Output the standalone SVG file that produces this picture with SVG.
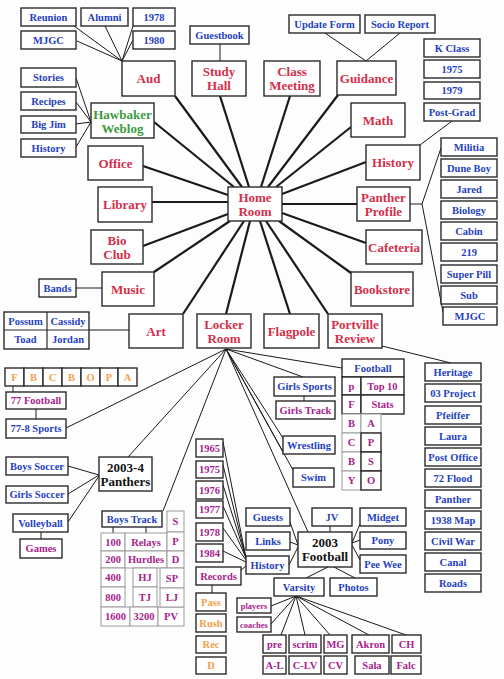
<svg xmlns="http://www.w3.org/2000/svg" width="504" height="679" viewBox="0 0 504 679">
<style>
rect{fill:#fff;stroke:#2a2a2a;stroke-width:1.4}
.g rect{stroke:#9a9a9a;stroke-width:1}
text{font-family:"Liberation Serif","Times New Roman",serif;font-weight:bold;text-anchor:middle;dominant-baseline:central;font-size:10.5px}
.L{font-size:13px}
.xs{font-size:8.5px}
.r{fill:#d42f4a}.u{fill:#1f3fbf}.p{fill:#a8228c}.o{fill:#f2a04a}.gr{fill:#3a9a40}.k{fill:#111}
#connectors line{stroke:#1a1a1a;stroke-width:1}
#connectors .h line{stroke-width:2.2}
</style>
<rect x="0" y="0" width="504" height="679" style="fill:#fdfdfd;stroke:none"/>
<g id="connectors">
<g class="h">
<line x1="175" y1="96" x2="242" y2="187"/>
<line x1="220" y1="96" x2="249" y2="187"/>
<line x1="290" y1="96" x2="261" y2="187"/>
<line x1="338" y1="95" x2="268" y2="187"/>
<line x1="351" y1="127" x2="276" y2="187"/>
<line x1="366" y1="162" x2="282" y2="194"/>
<line x1="357" y1="204" x2="282" y2="204"/>
<line x1="366" y1="243" x2="282" y2="213"/>
<line x1="351" y1="273" x2="279" y2="221"/>
<line x1="328" y1="314" x2="266" y2="221"/>
<line x1="290" y1="314" x2="260" y2="221"/>
<line x1="226" y1="314" x2="250" y2="221"/>
<line x1="183" y1="314" x2="244" y2="221"/>
<line x1="154" y1="272" x2="230" y2="221"/>
<line x1="143" y1="246" x2="228" y2="214"/>
<line x1="152" y1="202" x2="228" y2="202"/>
<line x1="143" y1="166" x2="228" y2="195"/>
<line x1="154" y1="122" x2="234" y2="187"/>
</g>
<line x1="74" y1="26" x2="122" y2="61"/>
<line x1="105" y1="26" x2="122" y2="61"/>
<line x1="133" y1="26" x2="122" y2="61"/>
<line x1="133" y1="40" x2="122" y2="61"/>
<line x1="77" y1="41" x2="122" y2="61"/>
<line x1="76" y1="78" x2="91" y2="122"/>
<line x1="76" y1="102" x2="91" y2="122"/>
<line x1="76" y1="124" x2="91" y2="122"/>
<line x1="76" y1="147" x2="91" y2="122"/>
<line x1="220" y1="44" x2="220" y2="61"/>
<line x1="325" y1="33" x2="366" y2="61"/>
<line x1="400" y1="33" x2="366" y2="61"/>
<line x1="452" y1="121" x2="420" y2="145"/>
<line x1="410" y1="204" x2="422" y2="204"/>
<line x1="422" y1="204" x2="441" y2="148"/>
<line x1="422" y1="204" x2="443" y2="312"/>
<line x1="76" y1="288" x2="102" y2="288"/>
<line x1="89" y1="330" x2="129" y2="330"/>
<line x1="382" y1="346" x2="451" y2="363"/>
<line x1="226" y1="349" x2="66" y2="428"/>
<line x1="226" y1="349" x2="128" y2="457"/>
<line x1="226" y1="349" x2="163" y2="511"/>
<line x1="226" y1="349" x2="303" y2="377"/>
<line x1="226" y1="349" x2="342" y2="368"/>
<line x1="226" y1="349" x2="283" y2="438"/>
<line x1="226" y1="349" x2="283" y2="452"/>
<line x1="226" y1="349" x2="293" y2="470"/>
<line x1="226" y1="349" x2="308" y2="532"/>
<line x1="13" y1="386" x2="13" y2="392"/>
<line x1="36" y1="409" x2="36" y2="419"/>
<line x1="68" y1="466" x2="99" y2="475"/>
<line x1="68" y1="494" x2="99" y2="475"/>
<line x1="68" y1="522" x2="99" y2="476"/>
<line x1="41" y1="532" x2="41" y2="539"/>
<line x1="304" y1="396" x2="304" y2="401"/>
<line x1="113" y1="527" x2="113" y2="533"/>
<line x1="146" y1="527" x2="146" y2="533"/>
<line x1="223" y1="442" x2="246" y2="558"/>
<line x1="223" y1="465" x2="246" y2="558"/>
<line x1="223" y1="485" x2="246" y2="558"/>
<line x1="223" y1="506" x2="246" y2="558"/>
<line x1="223" y1="528" x2="246" y2="560"/>
<line x1="223" y1="551" x2="246" y2="562"/>
<line x1="241" y1="570" x2="246" y2="566"/>
<line x1="212" y1="585" x2="212" y2="593"/>
<line x1="290" y1="522" x2="298" y2="545"/>
<line x1="290" y1="542" x2="298" y2="545"/>
<line x1="289" y1="565" x2="298" y2="547"/>
<line x1="330" y1="526" x2="330" y2="532"/>
<line x1="352" y1="543" x2="360" y2="524"/>
<line x1="352" y1="543" x2="360" y2="540"/>
<line x1="352" y1="545" x2="360" y2="560"/>
<line x1="328" y1="567" x2="306" y2="578"/>
<line x1="334" y1="567" x2="355" y2="578"/>
<line x1="296" y1="596" x2="271" y2="606"/>
<line x1="296" y1="596" x2="271" y2="624"/>
<line x1="296" y1="596" x2="281" y2="635"/>
<line x1="296" y1="596" x2="305" y2="635"/>
<line x1="296" y1="596" x2="330" y2="635"/>
<line x1="296" y1="596" x2="369" y2="635"/>
<line x1="296" y1="596" x2="406" y2="635"/>
</g>

<g id="n-reunion"><rect x="21" y="8" width="55" height="18"/><text x="48.5" y="17" class="u">Reunion</text></g>
<g id="n-alumni"><rect x="81" y="8" width="47" height="18"/><text x="104.5" y="17" class="u">Alumni</text></g>
<g id="n-1978a"><rect x="133" y="8" width="42" height="18"/><text x="154" y="17" class="u">1978</text></g>
<g id="n-mjgc1"><rect x="21" y="31" width="55" height="18"/><text x="48.5" y="40" class="u">MJGC</text></g>
<g id="n-1980"><rect x="133" y="31" width="42" height="18"/><text x="154" y="40" class="u">1980</text></g>
<g id="n-aud"><rect x="122" y="61" width="53" height="35"/><text x="148.5" y="78.5" class="L r">Aud</text></g>
<g id="n-stories"><rect x="21" y="68" width="55" height="19"/><text x="48.5" y="77.5" class="u">Stories</text></g>
<g id="n-recipes"><rect x="21" y="92" width="55" height="18"/><text x="48.5" y="101" class="u">Recipes</text></g>
<g id="n-bigjim"><rect x="21" y="116" width="55" height="17"/><text x="48.5" y="124.5" class="u">Big Jim</text></g>
<g id="n-history1"><rect x="21" y="139" width="55" height="18"/><text x="48.5" y="148" class="u">History</text></g>
<g id="n-hawbaker"><rect x="91" y="103" width="63" height="35"/><text x="122.5" y="114" class="L gr">Hawbaker</text><text x="122.5" y="128" class="L gr">Weblog</text></g>
<g id="n-office"><rect x="88" y="146" width="55" height="34"/><text x="115.5" y="163" class="L r">Office</text></g>
<g id="n-library"><rect x="98" y="187" width="54" height="35"/><text x="125" y="204.5" class="L r">Library</text></g>
<g id="n-bioclub"><rect x="91" y="230" width="52" height="34"/><text x="117" y="240" class="L r">Bio</text><text x="117" y="254" class="L r">Club</text></g>
<g id="n-music"><rect x="102" y="272" width="52" height="34"/><text x="128" y="289" class="L r">Music</text></g>
<g id="n-bands"><rect x="39" y="279" width="37" height="18"/><text x="57.5" y="288" class="u">Bands</text></g>
<g id="n-possum"><rect x="4" y="312" width="85" height="37"/><line x1="47" y1="312" x2="47" y2="349" style="stroke:#2a2a2a;stroke-width:1.2"/><line x1="4" y1="330" x2="89" y2="330" style="stroke:#2a2a2a;stroke-width:1.2"/><text x="25.5" y="321" class="u">Possum</text><text x="68" y="321" class="u">Cassidy</text><text x="25.5" y="339.5" class="u">Toad</text><text x="68" y="339.5" class="u">Jordan</text></g>
<g id="n-art"><rect x="129" y="314" width="54" height="34"/><text x="156" y="331" class="L r">Art</text></g>

<g id="n-guestbook"><rect x="190" y="26" width="59" height="18"/><text x="219.5" y="35" class="u">Guestbook</text></g>
<g id="n-studyhall"><rect x="192" y="61" width="54" height="35"/><text x="219" y="71.5" class="L r">Study</text><text x="219" y="85.5" class="L r">Hall</text></g>
<g id="n-classmeeting"><rect x="264" y="61" width="56" height="35"/><text x="292" y="71.5" class="L r">Class</text><text x="292" y="85.5" class="L r">Meeting</text></g>
<g id="n-updateform"><rect x="289" y="15" width="71" height="18"/><text x="324.5" y="24" class="u">Update Form</text></g>
<g id="n-socio"><rect x="365" y="15" width="70" height="18"/><text x="400" y="24" class="u">Socio Report</text></g>
<g id="n-guidance"><rect x="337" y="61" width="59" height="34"/><text x="366.5" y="78" class="L r">Guidance</text></g>
<g id="n-kclass"><rect x="424" y="39" width="56" height="18"/><text x="452" y="48" class="u">K Class</text></g>
<g id="n-1975a"><rect x="424" y="60" width="56" height="18"/><text x="452" y="69" class="u">1975</text></g>
<g id="n-1979"><rect x="424" y="82" width="56" height="17"/><text x="452" y="90.5" class="u">1979</text></g>
<g id="n-postgrad"><rect x="424" y="103" width="56" height="18"/><text x="452" y="112" class="u">Post-Grad</text></g>
<g id="n-math"><rect x="351" y="103" width="54" height="34"/><text x="378" y="120" class="L r">Math</text></g>
<g id="n-history2"><rect x="366" y="145" width="54" height="35"/><text x="393" y="162.5" class="L r">History</text></g>
<g id="n-homeroom"><rect x="228" y="187" width="54" height="34"/><text x="255" y="197" class="L r">Home</text><text x="255" y="211" class="L r">Room</text></g>
<g id="n-pantherprofile"><rect x="357" y="187" width="53" height="34"/><text x="383.5" y="197" class="L r">Panther</text><text x="383.5" y="211" class="L r">Profile</text></g>
<g id="n-militia"><rect x="441" y="138" width="56" height="18"/><text x="469" y="147" class="u">Militia</text></g>
<g id="n-duneboy"><rect x="441" y="159" width="56" height="18"/><text x="469" y="168" class="u">Dune Boy</text></g>
<g id="n-jared"><rect x="441" y="180" width="56" height="18"/><text x="469" y="189" class="u">Jared</text></g>
<g id="n-biology"><rect x="441" y="201" width="56" height="18"/><text x="469" y="210" class="u">Biology</text></g>
<g id="n-cabin"><rect x="441" y="222" width="56" height="18"/><text x="469" y="231" class="u">Cabin</text></g>
<g id="n-219"><rect x="441" y="243" width="56" height="18"/><text x="469" y="252" class="u">219</text></g>
<g id="n-superpill"><rect x="441" y="265" width="56" height="18"/><text x="469" y="274" class="u">Super Pill</text></g>
<g id="n-sub"><rect x="441" y="286" width="56" height="18"/><text x="469" y="295" class="u">Sub</text></g>
<g id="n-mjgc2"><rect x="443" y="307" width="54" height="18"/><text x="470" y="316" class="u">MJGC</text></g>
<g id="n-cafeteria"><rect x="366" y="230" width="56" height="34"/><text x="394" y="247" class="L r">Cafeteria</text></g>
<g id="n-bookstore"><rect x="351" y="272" width="62" height="34"/><text x="382" y="289" class="L r">Bookstore</text></g>
<g id="n-portville"><rect x="328" y="314" width="54" height="34"/><text x="355" y="324" class="L r">Portville</text><text x="355" y="338" class="L r">Review</text></g>
<g id="n-locker"><rect x="197" y="314" width="54" height="34"/><text x="224" y="324" class="L r">Locker</text><text x="224" y="338" class="L r">Room</text></g>
<g id="n-flagpole"><rect x="264" y="314" width="55" height="34"/><text x="291.5" y="331" class="L r">Flagpole</text></g>

<g id="n-fbcbopa">
<rect x="5" y="368" width="19" height="18"/><text x="14.5" y="377" class="o">F</text>
<rect x="24" y="368" width="19" height="18"/><text x="33.5" y="377" class="o">B</text>
<rect x="43" y="368" width="19" height="18"/><text x="52.5" y="377" class="o">C</text>
<rect x="62" y="368" width="19" height="18"/><text x="71.5" y="377" class="o">B</text>
<rect x="81" y="368" width="19" height="18"/><text x="90.5" y="377" class="o">O</text>
<rect x="100" y="368" width="18" height="18"/><text x="109" y="377" class="o">P</text>
<rect x="118" y="368" width="19" height="18"/><text x="127.5" y="377" class="o">A</text>
</g>
<g id="n-77football"><rect x="6" y="392" width="60" height="17"/><text x="36" y="400.5" class="p">77 Football</text></g>
<g id="n-778sports"><rect x="6" y="419" width="60" height="19"/><text x="36" y="428.5" class="u">77-8 Sports</text></g>
<g id="n-boyssoccer"><rect x="6" y="457" width="62" height="18"/><text x="37" y="466" class="u">Boys Soccer</text></g>
<g id="n-girlssoccer"><rect x="6" y="486" width="62" height="17"/><text x="37" y="494.5" class="u">Girls Soccer</text></g>
<g id="n-panthers"><rect x="99" y="457" width="53" height="34"/><text x="125.5" y="467" class="L k">2003-4</text><text x="125.5" y="481" class="L k">Panthers</text></g>
<g id="n-volleyball"><rect x="13" y="514" width="55" height="18"/><text x="40.5" y="523" class="u">Volleyball</text></g>
<g id="n-games"><rect x="20" y="539" width="42" height="19"/><text x="41" y="548.5" class="p">Games</text></g>
<g id="n-boystrack"><rect x="102" y="511" width="60" height="16"/><text x="132" y="519" class="u">Boys Track</text></g>
<g id="n-trackgrid" class="g">
<rect x="101" y="533" width="24" height="18"/><text x="113" y="542" class="p">100</text>
<rect x="125" y="533" width="42" height="18"/><text x="146" y="542" class="p">Relays</text>
<rect x="101" y="551" width="24" height="17"/><text x="113" y="559.5" class="p">200</text>
<rect x="125" y="551" width="42" height="17"/><text x="146" y="559.5" class="p">Hurdles</text>
<rect x="101" y="568" width="24" height="19"/><text x="113" y="577.5" class="p">400</text>
<rect x="133" y="568" width="24" height="19"/><text x="145" y="577.5" class="p">HJ</text>
<rect x="101" y="587" width="24" height="20"/><text x="113" y="597" class="p">800</text>
<rect x="133" y="587" width="24" height="20"/><text x="145" y="597" class="p">TJ</text>
<rect x="101" y="607" width="29" height="19"/><text x="115.5" y="616.5" class="p">1600</text>
<rect x="130" y="607" width="28" height="19"/><text x="144" y="616.5" class="p">3200</text>
<rect x="158" y="607" width="26" height="19"/><text x="171" y="616.5" class="p">PV</text>
<rect x="167" y="511" width="17" height="21"/><text x="175.5" y="521.5" class="p">S</text>
<rect x="167" y="532" width="17" height="19"/><text x="175.5" y="541.5" class="p">P</text>
<rect x="167" y="551" width="17" height="17"/><text x="175.5" y="559.5" class="p">D</text>
<rect x="160" y="568" width="24" height="20"/><text x="172" y="578" class="p">SP</text>
<rect x="160" y="588" width="24" height="19"/><text x="172" y="597.5" class="p">LJ</text>
</g>

<g id="n-1965"><rect x="196" y="439" width="27" height="18"/><text x="209.5" y="448" class="p">1965</text></g>
<g id="n-1975b"><rect x="196" y="461" width="27" height="17"/><text x="209.5" y="469.5" class="p">1975</text></g>
<g id="n-1976"><rect x="196" y="481" width="27" height="18"/><text x="209.5" y="490" class="p">1976</text></g>
<g id="n-1977"><rect x="196" y="501" width="27" height="17"/><text x="209.5" y="509.5" class="p">1977</text></g>
<g id="n-1978b"><rect x="196" y="523" width="27" height="18"/><text x="209.5" y="532" class="p">1978</text></g>
<g id="n-1984"><rect x="196" y="544" width="27" height="18"/><text x="209.5" y="553" class="p">1984</text></g>
<g id="n-records"><rect x="196" y="567" width="45" height="18"/><text x="218.5" y="576" class="p">Records</text></g>
<g id="n-pass"><rect x="196" y="593" width="30" height="18"/><text x="211" y="602" class="o">Pass</text></g>
<g id="n-rush"><rect x="196" y="614" width="30" height="18"/><text x="211" y="623" class="o">Rush</text></g>
<g id="n-rec"><rect x="196" y="636" width="30" height="17"/><text x="211" y="644.5" class="o">Rec</text></g>
<g id="n-d"><rect x="196" y="657" width="30" height="17"/><text x="211" y="665.5" class="o">D</text></g>

<g id="n-girlssports"><rect x="274" y="377" width="61" height="19"/><text x="304.5" y="386.5" class="u">Girls Sports</text></g>
<g id="n-girlstrack"><rect x="276" y="401" width="59" height="18"/><text x="305.5" y="410" class="p">Girls Track</text></g>
<g id="n-wrestling"><rect x="283" y="436" width="52" height="18"/><text x="309" y="445" class="u">Wrestling</text></g>
<g id="n-swim"><rect x="293" y="468" width="41" height="19"/><text x="313.5" y="477.5" class="u">Swim</text></g>

<g id="n-football">
<rect x="342" y="359" width="62" height="18"/><text x="373" y="368" class="u">Football</text>
<rect x="342" y="377" width="19" height="18"/><text x="351.5" y="386" class="p">p</text>
<rect x="361" y="377" width="43" height="18"/><text x="382.5" y="386" class="p">Top 10</text>
<rect x="342" y="395" width="19" height="19"/><text x="351.5" y="404.5" class="p">F</text>
<rect x="361" y="395" width="43" height="19"/><text x="382.5" y="404.5" class="p">Stats</text>
<rect x="342" y="414" width="19" height="19" style="stroke:#999;stroke-width:1"/><text x="351.5" y="423.5" class="p">B</text>
<rect x="361" y="414" width="20" height="19" style="stroke:#999;stroke-width:1"/><text x="371" y="423.5" class="p">A</text>
<rect x="342" y="433" width="19" height="19" style="stroke:#999;stroke-width:1"/><text x="351.5" y="442.5" class="p">C</text>
<rect x="342" y="452" width="19" height="19" style="stroke:#999;stroke-width:1"/><text x="351.5" y="461.5" class="p">B</text>
<rect x="342" y="471" width="19" height="19" style="stroke:#999;stroke-width:1"/><text x="351.5" y="480.5" class="p">Y</text>
<rect x="361" y="433" width="20" height="19"/><text x="371" y="442.5" class="p">P</text>
<rect x="361" y="452" width="20" height="19"/><text x="371" y="461.5" class="p">S</text>
<rect x="361" y="471" width="20" height="19"/><text x="371" y="480.5" class="p">O</text>
</g>

<g id="n-heritage"><rect x="425" y="363" width="56" height="18"/><text x="453" y="372" class="u">Heritage</text></g>
<g id="n-03project"><rect x="425" y="384" width="56" height="18"/><text x="453" y="393" class="u">03 Project</text></g>
<g id="n-pfeiffer"><rect x="425" y="406" width="56" height="18"/><text x="453" y="415" class="u">Pfeiffer</text></g>
<g id="n-laura"><rect x="425" y="427" width="56" height="18"/><text x="453" y="436" class="u">Laura</text></g>
<g id="n-postoffice"><rect x="425" y="448" width="56" height="18"/><text x="453" y="457" class="u">Post Office</text></g>
<g id="n-72flood"><rect x="425" y="469" width="56" height="18"/><text x="453" y="478" class="u">72 Flood</text></g>
<g id="n-panther"><rect x="425" y="490" width="56" height="18"/><text x="453" y="499" class="u">Panther</text></g>
<g id="n-1938map"><rect x="425" y="511" width="56" height="18"/><text x="453" y="520" class="u">1938 Map</text></g>
<g id="n-civilwar"><rect x="425" y="532" width="56" height="18"/><text x="453" y="541" class="u">Civil War</text></g>
<g id="n-canal"><rect x="425" y="553" width="56" height="18"/><text x="453" y="562" class="u">Canal</text></g>
<g id="n-roads"><rect x="425" y="574" width="56" height="18"/><text x="453" y="583" class="u">Roads</text></g>

<g id="n-guests"><rect x="246" y="508" width="44" height="18"/><text x="268" y="517" class="u">Guests</text></g>
<g id="n-links"><rect x="246" y="532" width="44" height="18"/><text x="268" y="541" class="u">Links</text></g>
<g id="n-history3"><rect x="246" y="556" width="43" height="18"/><text x="267.5" y="565" class="u">History</text></g>
<g id="n-jv"><rect x="312" y="508" width="40" height="18"/><text x="332" y="517" class="u">JV</text></g>
<g id="n-2003football"><rect x="298" y="532" width="54" height="35"/><text x="325" y="542.5" class="L k">2003</text><text x="325" y="556.5" class="L k">Football</text></g>
<g id="n-midget"><rect x="360" y="508" width="46" height="18"/><text x="383" y="517" class="u">Midget</text></g>
<g id="n-pony"><rect x="360" y="532" width="46" height="17"/><text x="383" y="540.5" class="u">Pony</text></g>
<g id="n-peewee"><rect x="360" y="555" width="46" height="18"/><text x="383" y="564" class="u">Pee Wee</text></g>
<g id="n-varsity"><rect x="274" y="578" width="50" height="18"/><text x="299" y="587" class="u">Varsity</text></g>
<g id="n-photos"><rect x="330" y="578" width="47" height="18"/><text x="353.5" y="587" class="u">Photos</text></g>
<g id="n-players"><rect x="237" y="598" width="34" height="15"/><text x="254" y="605.5" class="p xs">players</text></g>
<g id="n-coaches"><rect x="237" y="617" width="34" height="15"/><text x="254" y="624.5" class="p xs">coaches</text></g>
<g id="n-pre"><rect x="263" y="635" width="23" height="18"/><text x="274.5" y="644" class="p">pre</text></g>
<g id="n-scrim"><rect x="289" y="635" width="32" height="18"/><text x="305" y="644" class="p">scrim</text></g>
<g id="n-mg"><rect x="324" y="635" width="23" height="18"/><text x="335.5" y="644" class="p">MG</text></g>
<g id="n-akron"><rect x="352" y="635" width="37" height="18"/><text x="370.5" y="644" class="p">Akron</text></g>
<g id="n-ch"><rect x="392" y="635" width="29" height="18"/><text x="406.5" y="644" class="p">CH</text></g>
<g id="n-al"><rect x="263" y="656" width="23" height="18"/><text x="274.5" y="665" class="p">A-L</text></g>
<g id="n-clv"><rect x="289" y="656" width="32" height="18"/><text x="305" y="665" class="p">C-LV</text></g>
<g id="n-cv"><rect x="324" y="656" width="23" height="18"/><text x="335.5" y="665" class="p">CV</text></g>
<g id="n-sala"><rect x="355" y="656" width="34" height="18"/><text x="372" y="665" class="p">Sala</text></g>
<g id="n-falc"><rect x="391" y="656" width="30" height="18"/><text x="406" y="665" class="p">Falc</text></g>
</svg>
